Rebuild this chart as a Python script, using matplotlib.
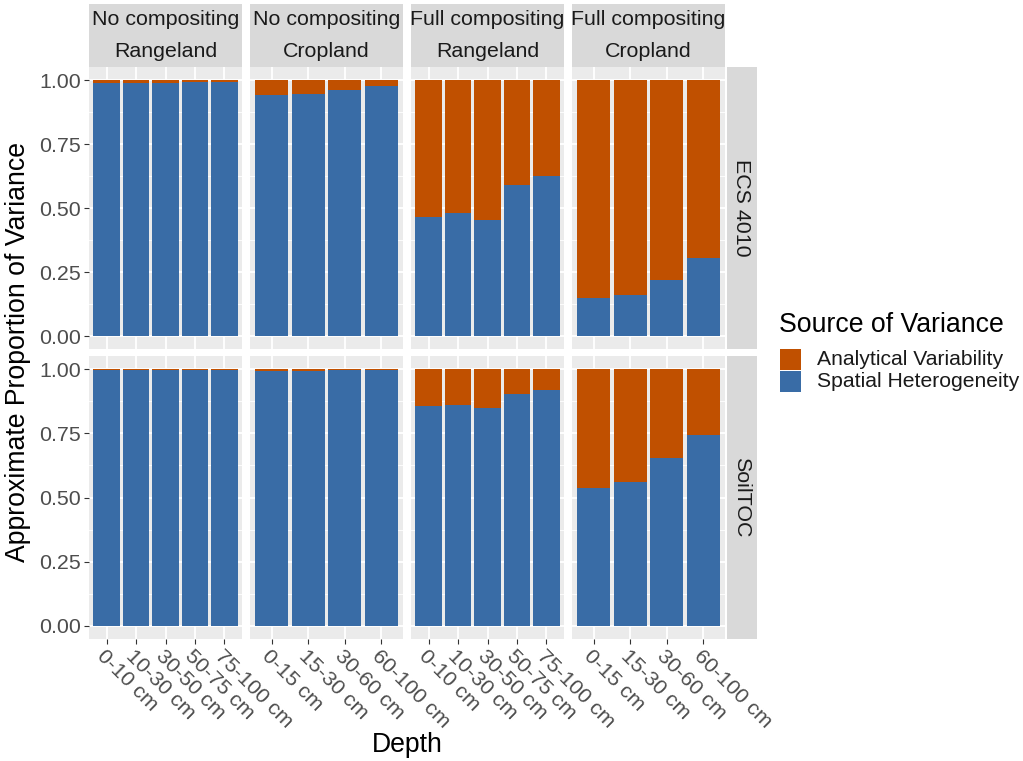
import matplotlib
matplotlib.use("Agg")
import matplotlib.pyplot as plt
from matplotlib.patches import Rectangle
import numpy as np

plt.rcParams['font.family'] = ['Liberation Sans', 'DejaVu Sans']

# facet labels
compositing = ["No compositing", "No compositing", "Full compositing", "Full compositing"]
land_use = ["Rangeland", "Cropland", "Rangeland", "Cropland"]
methods = ["ECS 4010", "SoilTOC"]

depths_range = ["0-10 cm", "10-30 cm", "30-50 cm", "50-75 cm", "75-100 cm"]
depths_crop = ["0-15 cm", "15-30 cm", "30-60 cm", "60-100 cm"]

sources = ["Analytical Variability", "Spatial Heterogeneity"]

# proportion of variance from spatial heterogeneity (rest is analytical)
spatial_ecs = [
    [0.988, 0.988, 0.988, 0.992, 0.992],
    [0.941, 0.947, 0.962, 0.978],
    [0.465, 0.479, 0.453, 0.590, 0.625],
    [0.148, 0.159, 0.219, 0.305],
]
spatial_toc = [
    [0.998, 0.998, 0.997, 0.999, 0.999],
    [0.993, 0.993, 0.996, 0.996],
    [0.856, 0.860, 0.848, 0.905, 0.918],
    [0.538, 0.559, 0.653, 0.743],
]

col_analytical = "#C05000"
col_spatial = "#396CA6"
panel_bg = "#EBEBEB"
strip_bg = "#D9D9D9"

W, H = 1023, 761
fig = plt.figure(figsize=(W / 100, H / 100), dpi=100)

def fx(px):
    return px / W

def fy(px):
    return 1 - px / H

panel_x = [89, 250, 411, 572]
panel_w = 153
row_top = [67.2, 356.5]
row_bot = [348.8, 638.5]

base = 19.2
small = 15.4

for r, spatial_rows in enumerate([spatial_ecs, spatial_toc]):
    for c in range(4):
        depths = depths_range if c % 2 == 0 else depths_crop
        s = np.array(spatial_rows[c])
        a = 1 - s
        ax = fig.add_axes([fx(panel_x[c]), fy(row_bot[r]), fx(panel_w),
                           (row_bot[r] - row_top[r]) / H])
        ax.set_facecolor(panel_bg)
        x = np.arange(1, len(depths) + 1)
        ax.bar(x, s, width=0.9, color=col_spatial, zorder=3)
        ax.bar(x, a, width=0.9, bottom=s, color=col_analytical, zorder=3)
        ax.set_xlim(0.4, len(depths) + 0.6)
        ax.set_ylim(-0.05, 1.05)
        ax.set_yticks([0, 0.25, 0.5, 0.75, 1.0])
        ax.set_yticks([0.125, 0.375, 0.625, 0.875], minor=True)
        ax.set_xticks(x)
        ax.grid(which='major', color='white', lw=1.3, zorder=0)
        ax.grid(which='minor', axis='y', color='white', lw=0.6, zorder=0)
        for sp in ax.spines.values():
            sp.set_visible(False)
        ax.tick_params(which='minor', length=0)
        ax.tick_params(which='major', color='#333333', length=3.5, width=0.8,
                       labelcolor='#4D4D4D', labelsize=small, pad=2)
        if c == 0:
            ax.set_yticklabels(["0.00", "0.25", "0.50", "0.75", "1.00"])
        else:
            ax.tick_params(axis='y', length=0, labelleft=False)
        if r == 1:
            ax.set_xticklabels(depths, rotation=-45, ha='left', va='top',
                               rotation_mode='anchor')
        else:
            ax.tick_params(axis='x', length=0, labelbottom=False)

# column strips (two label rows)
for c in range(4):
    for lab, y0, y1 in [(compositing[c], 4, 35.5), (land_use[c], 36, 66.5)]:
        sax = fig.add_axes([fx(panel_x[c]), fy(y1), fx(panel_w), (y1 - y0) / H])
        sax.set_facecolor(strip_bg)
        sax.set_xticks([])
        sax.set_yticks([])
        for sp in sax.spines.values():
            sp.set_visible(False)
        sax.text(0.5, 0.5, lab, ha='center', va='center', fontsize=small,
                 color='#1A1A1A', transform=sax.transAxes)

# row strips on the right
for r in range(2):
    sax = fig.add_axes([fx(727), fy(row_bot[r]), fx(30), (row_bot[r] - row_top[r]) / H])
    sax.set_facecolor(strip_bg)
    sax.set_xticks([])
    sax.set_yticks([])
    for sp in sax.spines.values():
        sp.set_visible(False)
    sax.text(0.5, 0.5, methods[r], ha='center', va='center', rotation=-90,
             fontsize=small, color='#1A1A1A', transform=sax.transAxes)

fig.text(fx(407), fy(745), "Depth", ha='center', va='center', fontsize=base)
fig.text(fx(18), fy(352), "Approximate Proportion of Variance", ha='center',
         va='center', rotation=90, fontsize=base)

# legend drawn by hand: title, square keys, labels
fig.text(fx(779), fy(325), "Source of Variance", ha='left', va='center', fontsize=base)
for i, (lab, col) in enumerate(zip(sources, [col_analytical, col_spatial])):
    top = 349 + 22 * i
    fig.patches.append(Rectangle((fx(780), fy(top + 21)), fx(21), 21 / H,
                                 facecolor=col, edgecolor='none',
                                 transform=fig.transFigure, figure=fig))
    fig.text(fx(817), fy(top + 10.5), lab, ha='left', va='center',
             fontsize=15.2, color='#1A1A1A')

fig.savefig("out.png", dpi=100)
